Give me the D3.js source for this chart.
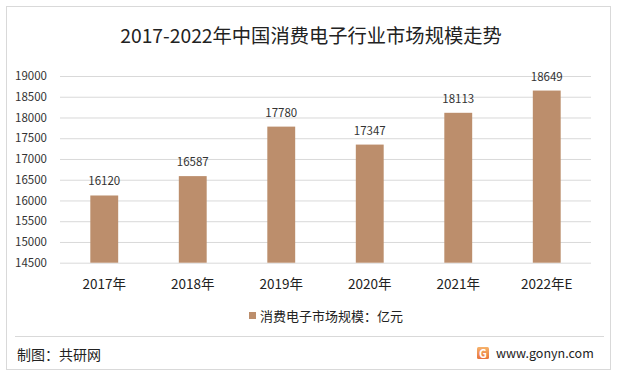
<!DOCTYPE html>
<html>
<head>
<meta charset="utf-8">
<script src="https://cdn.jsdelivr.net/npm/d3@7"></script>
<style>
  body { margin: 0; background: #fff; }
  text { font-family: "Microsoft YaHei", "Noto Sans CJK SC", sans-serif; }
</style>
</head>
<body>
<div id="chart"></div>
<script>
const years = ['2017年', '2018年', '2019年', '2020年', '2021年', '2022年E'];
const values = [16120, 16587, 17780, 17347, 18113, 18649];
const yTicks = [14500, 15000, 15500, 16000, 16500, 17000, 17500, 18000, 18500, 19000];
const title = '2017-2022年中国消费电子行业市场规模走势';
const seriesName = '消费电子市场规模：亿元';

const width = 618, height = 376;
const barColor = '#bc8e6c';

const svg = d3.select('#chart').append('svg')
    .attr('width', width).attr('height', height);

// outer frame
svg.append('rect')
    .attr('x', 6.5).attr('y', 6.5)
    .attr('width', 604).attr('height', 363)
    .attr('fill', '#fff').attr('stroke', '#d9d9d9');

svg.append('text')
    .attr('x', 311).attr('y', 43)
    .attr('text-anchor', 'middle')
    .attr('font-size', 19.3)
    .attr('fill', '#222')
    .text(title);

const xScale = d3.scaleBand()
    .domain(years)
    .range([60, 591])
    .paddingInner(0.685)
    .paddingOuter(0.3425);

const yScale = d3.scaleLinear()
    .domain([14500, 19000])
    .range([262.7, 76]);

// grid + y labels
const yAxis = d3.axisLeft(yScale)
    .tickValues(yTicks)
    .tickSize(-(591 - 60))
    .tickPadding(12)
    .tickFormat(d3.format('d'));

const yAxisG = svg.append('g')
    .attr('transform', 'translate(60,0)')
    .call(yAxis);
yAxisG.select('.domain').remove();
yAxisG.selectAll('line').attr('stroke', '#d9d9d9');
yAxisG.selectAll('text')
    .attr('font-size', 11.5)
    .attr('fill', '#333')
    .attr('x', -13);

// bars
svg.selectAll('rect.bar').data(values)
    .enter().append('rect')
    .attr('class', 'bar')
    .attr('x', (d, i) => xScale(years[i]))
    .attr('width', xScale.bandwidth())
    .attr('y', d => yScale(d))
    .attr('height', d => yScale(14500) - yScale(d))
    .attr('fill', barColor);

// value labels
svg.selectAll('text.val').data(values)
    .enter().append('text')
    .attr('class', 'val')
    .attr('x', (d, i) => xScale(years[i]) + xScale.bandwidth() / 2)
    .attr('y', d => yScale(d) - 10)
    .attr('text-anchor', 'middle')
    .attr('font-size', 11.5)
    .attr('fill', '#333')
    .text(d => d);

// x labels
const xAxis = d3.axisBottom(xScale).tickSize(0).tickPadding(17);
const xAxisG = svg.append('g')
    .attr('transform', 'translate(0,262.7)')
    .call(xAxis);
xAxisG.select('.domain').remove();
xAxisG.selectAll('text')
    .attr('font-size', 13.5)
    .attr('fill', '#222');

// legend
const legend = svg.append('g').attr('transform', 'translate(249,312)');
legend.append('rect')
    .attr('width', 7).attr('height', 7)
    .attr('fill', barColor);
legend.append('text')
    .attr('x', 11).attr('y', 8.5)
    .attr('font-size', 13)
    .attr('fill', '#222')
    .text(seriesName);

// footer
svg.append('line')
    .attr('x1', 15).attr('x2', 604)
    .attr('y1', 336.5).attr('y2', 336.5)
    .attr('stroke', '#d9d9d9');

svg.append('text')
    .attr('x', 17).attr('y', 360)
    .attr('font-size', 14)
    .attr('fill', '#222')
    .text('制图：共研网');

const grad = svg.append('defs').append('linearGradient')
    .attr('id', 'lg').attr('x1', 0).attr('y1', 0).attr('x2', 0).attr('y2', 1);
grad.append('stop').attr('offset', '0%').attr('stop-color', '#f6b26b');
grad.append('stop').attr('offset', '100%').attr('stop-color', '#e8743b');
const logo = svg.append('g').attr('transform', 'translate(477,347)');
logo.append('rect')
    .attr('width', 12).attr('height', 12).attr('rx', 1.5)
    .attr('fill', 'url(#lg)');
logo.append('text')
    .attr('x', 6).attr('y', 10.5)
    .attr('text-anchor', 'middle')
    .attr('font-size', 11).attr('font-weight', 'bold')
    .attr('fill', '#fff')
    .text('G');

svg.append('text')
    .attr('x', 496).attr('y', 358)
    .attr('font-size', 12.5)
    .attr('fill', '#222')
    .text('www.gonyn.com');
</script>
</body>
</html>
